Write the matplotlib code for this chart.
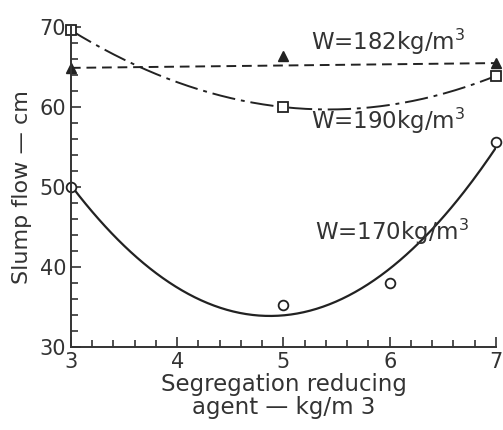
import numpy as np
import matplotlib.pyplot as plt
from matplotlib.ticker import MultipleLocator

# 読み取った値
agent = [3, 5, 7]
flow_182 = [64.9, 66.4, 65.5]
flow_190 = [69.6, 60.0, 63.9]
agent_170 = [3, 5, 6, 7]
flow_170 = [50.0, 35.3, 38.0, 55.6]
line_182 = [64.9, 65.5]   # dashed line end values

plt.rcParams['font.family'] = ['DejaVu Sans']

fig = plt.figure(figsize=(5.03, 4.30), dpi=100)
ax = fig.add_axes([0.141, 0.193, 0.845, 0.744])

xs = np.linspace(3, 7, 200)
c190 = np.polyfit(agent, flow_190, 2)
c170 = np.polyfit(agent_170, flow_170, 2)

ax.plot([agent[0], agent[-1]], line_182, color='#222222', lw=1.4, ls=(0, (5, 3)))
ax.plot(xs, np.polyval(c190, xs), color='#222222', lw=1.4, ls=(0, (12, 3, 2, 3)))
ax.plot(xs, np.polyval(c170, xs), color='#222222', lw=1.6)

ax.plot(agent, flow_182, ls='none', marker='^', ms=7, color='#222222', clip_on=False)
ax.plot(agent, flow_190, ls='none', marker='s', ms=7, mfc='white', mec='#222222', mew=1.3, clip_on=False)
ax.plot(agent_170, flow_170, ls='none', marker='o', ms=7, mfc='white', mec='#222222', mew=1.3, clip_on=False)

fs = 15
fl = 16.5
ax.text(5.26, 68.2, 'W=182kg/m$^3$', fontsize=fl, color='#333333', va='center')
ax.text(5.26, 58.3, 'W=190kg/m$^3$', fontsize=fl, color='#333333', va='center')
ax.text(5.30, 44.4, 'W=170kg/m$^3$', fontsize=fl, color='#333333', va='center')

ax.set_xlim(3, 7)
ax.set_ylim(30, 70)
ax.xaxis.set_major_locator(MultipleLocator(1))
ax.xaxis.set_minor_locator(MultipleLocator(0.2))
ax.yaxis.set_major_locator(MultipleLocator(10))
ax.yaxis.set_minor_locator(MultipleLocator(2))
ax.tick_params(which='both', direction='in', labelsize=fs, colors='#333333', width=1.2)
ax.tick_params(which='major', length=7)
ax.tick_params(which='minor', length=5)
for s in ['top', 'right']:
    ax.spines[s].set_visible(False)
for s in ['left', 'bottom']:
    ax.spines[s].set_linewidth(1.4)
    ax.spines[s].set_color('#333333')

ax.set_ylabel('Slump flow \u2014 cm', fontsize=16, color='#333333', labelpad=5)
ax.set_xlabel('Segregation reducing\nagent \u2014 kg/m 3', fontsize=16.5, color='#333333',
              labelpad=1, linespacing=1.0)

fig.savefig('out.png', dpi=100)
